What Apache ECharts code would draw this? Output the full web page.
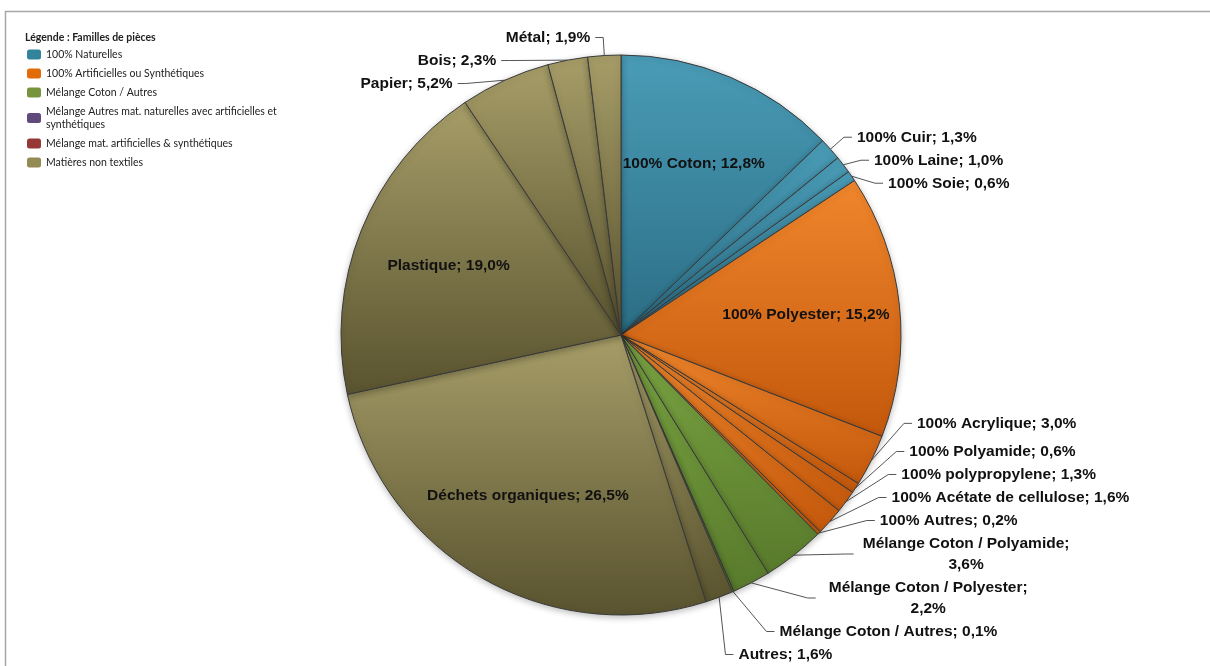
<!DOCTYPE html>
<html>
<head>
<meta charset="utf-8">
<script src="https://cdn.jsdelivr.net/npm/echarts@6/dist/echarts.min.js"></script>
<style>
  html, body { margin: 0; padding: 0; background: #fff; }
  #main { width: 1210px; height: 666px; }
</style>
</head>
<body>
<div id="main"></div>
<script>
// familles (légende)
const families = [
  '100% Naturelles',
  '100% Artificielles ou Synthétiques',
  'Mélange Coton / Autres',
  'Mélange Autres mat. naturelles avec artificielles et synthétiques',
  'Mélange mat. artificielles & synthétiques',
  'Matières non textiles'
];
const familyColors = ['#31849b', '#e36c0a', '#77933c', '#604a7b', '#953735', '#948a54'];
// dégradés des parts (haut -> bas)
const familyLight = ['#4a9cb7', '#f0862c', '#7aa442', '#7a6298', '#b04a48', '#a69d68'];
const familyDark = ['#2b6d84', '#c3580c', '#587a2c', '#4a3862', '#702826', '#59532f'];

// parts, sens horaire depuis midi
const pieces = [
  '100% Coton', '100% Cuir', '100% Laine', '100% Soie',
  '100% Polyester', '100% Acrylique', '100% Polyamide', '100% polypropylene',
  '100% Acétate de cellulose', '100% Autres',
  'Mélange Coton / Polyamide', 'Mélange Coton / Polyester', 'Mélange Coton / Autres',
  'Autres', 'Déchets organiques', 'Plastique', 'Papier', 'Bois', 'Métal'
];
const values = [12.8, 1.3, 1.0, 0.6, 15.2, 3.0, 0.6, 1.3, 1.6, 0.2, 3.6, 2.2, 0.1, 1.6, 26.5, 19.0, 5.2, 2.3, 1.9];
const pieceFamily = [0, 0, 0, 0, 1, 1, 1, 1, 1, 1, 2, 2, 2, 5, 5, 5, 5, 5, 5];
const insideLabels = ['100% Coton', '100% Polyester', 'Plastique', 'Déchets organiques'];
const wrapLabels = ['Mélange Coton / Polyamide', 'Mélange Coton / Polyester'];

const cx = 621, cy = 335, R = 280;
const labelFont = { fontSize: 15.5, fontWeight: 'bold', fontFamily: 'Liberation Sans', color: '#111' };

const chart = echarts.init(document.getElementById('main'));

const pieData = pieces.map(function (name, i) {
  const f = pieceFamily[i];
  const item = {
    name: name,
    value: values[i],
    itemStyle: {
      color: new echarts.graphic.LinearGradient(0, 0, 0, 1, [
        { offset: 0, color: familyLight[f] },
        { offset: 1, color: familyDark[f] }
      ])
    }
  };
  if (insideLabels.indexOf(name) >= 0) {
    item.label = { position: 'inside' };
  }
  return item;
});

const dummySeries = families.map(function (name, i) {
  return {
    name: name,
    type: 'scatter',
    data: [],
    itemStyle: { color: familyColors[i], opacity: 1 }
  };
});

function pct(v) {
  return v.toFixed(1).replace('.', ',') + '%';
}

function fmt(p) {
  if (wrapLabels.indexOf(p.name) >= 0) {
    return '{w|' + p.name + ';}\n{w|' + pct(p.value) + '}';
  }
  return p.name + '; ' + pct(p.value);
}

chart.setOption({
  backgroundColor: '#fff',
  animation: false,
  textStyle: { fontFamily: 'Liberation Sans, sans-serif' },
  title: {
    text: 'Légende : Familles de pièces',
    left: 20,
    top: 27,
    textStyle: { fontSize: 10.5, fontWeight: 'bold', color: '#222', fontFamily: 'Lato' }
  },
  graphic: [{
    type: 'rect',
    shape: { x: 5.5, y: 11.5, width: 1260, height: 700 },
    style: { fill: 'none', stroke: '#a6a6a6', lineWidth: 1.5 },
    silent: true
  }],
  grid: { show: false, left: 0, top: 0, width: 1, height: 1 },
  xAxis: { show: false },
  yAxis: { show: false },
  legend: {
    data: families,
    orient: 'vertical',
    left: 22,
    top: 43,
    icon: 'roundRect',
    itemWidth: 14,
    itemHeight: 10,
    itemGap: 6,
    textStyle: { fontSize: 10.5, color: '#222', width: 245, overflow: 'break', lineHeight: 13, fontFamily: 'Lato' }
  },
  series: dummySeries.concat([{
    name: 'Familles',
    type: 'pie',
    center: [cx, cy],
    radius: R,
    startAngle: 90,
    clockwise: true,
    legendHoverLink: false,
    avoidLabelOverlap: true,
    itemStyle: { borderColor: '#3a3a3a', borderWidth: 1, shadowBlur: 6, shadowColor: 'rgba(0,0,0,0.25)', shadowOffsetY: 2 },
    label: Object.assign({
      formatter: fmt,
      lineHeight: 21,
      rich: {
        w: Object.assign({ width: 215, align: 'center', lineHeight: 21 }, labelFont)
      }
    }, labelFont),
    labelLine: {
      length: 18,
      length2: 8,
      lineStyle: { color: '#555', width: 1 }
    },
    labelLayout: function (p) {
      // pousse les étiquettes intérieures vers le bord
      if (insideLabels.indexOf(pieces[p.dataIndex]) >= 0) {
        const lx = p.labelRect.x + p.labelRect.width / 2;
        const ly = p.labelRect.y + p.labelRect.height / 2;
        return { dx: (lx - cx) * 0.3, dy: (ly - cy) * 0.3 };
      }
      return {};
    },
    data: pieData
  }])
});
</script>
</body>
</html>
